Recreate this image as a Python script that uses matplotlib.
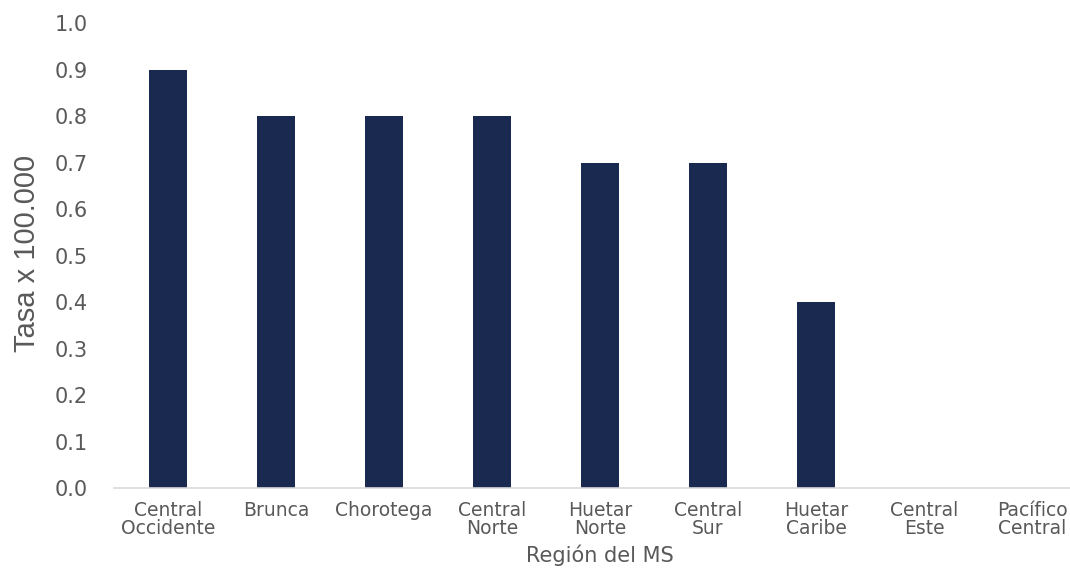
import matplotlib
matplotlib.use("Agg")
import matplotlib.pyplot as plt
import numpy as np

# Tasa por región del Ministerio de Salud
regiones = ["Central\nOccidente", "Brunca", "Chorotega", "Central\nNorte",
            "Huetar\nNorte", "Central\nSur", "Huetar\nCaribe", "Central\nEste",
            "Pacífico\nCentral"]
tasas = [0.9, 0.8, 0.8, 0.8, 0.7, 0.7, 0.4, 0.0, 0.0]
yticks = [0.0, 0.1, 0.2, 0.3, 0.4, 0.5, 0.6, 0.7, 0.8, 0.9, 1.0]

bar_color = "#1a2950"
text_color = "#595959"

fig = plt.figure(figsize=(10.7, 5.68), dpi=100)
ax = fig.add_axes([0.1065, 0.1408, 0.9085, 0.8187])

x = np.arange(len(regiones))
ax.bar(x, tasas, width=0.35, color=bar_color, zorder=2)

ax.set_xlim(-0.5, len(regiones) - 0.5)
ax.set_ylim(0, 1.0)
ax.set_yticks(yticks)
ax.set_yticklabels([f"{v:.1f}" for v in yticks], fontsize=15,
                   color=text_color, family="DejaVu Sans")
ax.set_xticks(x)
ax.set_xticklabels(regiones, fontsize=13.5, color=text_color,
                   family="DejaVu Sans", linespacing=0.95)

ax.tick_params(axis="y", length=0, pad=19)
ax.tick_params(axis="x", length=0, pad=9)

for side in ["top", "right", "left"]:
    ax.spines[side].set_visible(False)
ax.spines["bottom"].set_color("#d9d9d9")
ax.spines["bottom"].set_linewidth(1.2)

ax.set_ylabel("Tasa x 100.000", fontsize=21, color=text_color,
              family="Liberation Sans")
ax.yaxis.set_label_coords(-0.075, 0.505)
ax.set_xlabel("Región del MS", fontsize=15, color=text_color,
              family="DejaVu Sans", labelpad=5)

fig.savefig("out.png", dpi=100)
